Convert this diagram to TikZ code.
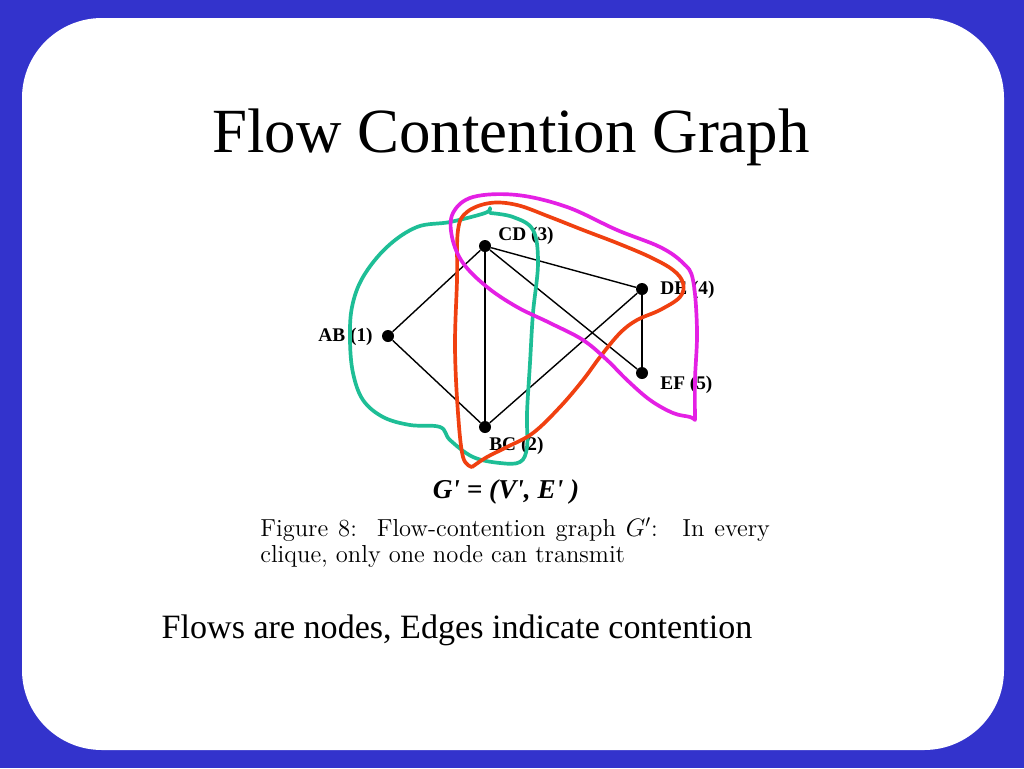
\documentclass[tikz,border=0pt]{standalone}
\usepackage{fontspec}
\newfontfamily\timesfont{Liberation Serif}
\definecolor{slideblue}{RGB}{51,51,204}
\definecolor{pengreen}{RGB}{30,190,150}
\definecolor{penred}{RGB}{240,64,16}
\definecolor{penpink}{RGB}{228,32,228}

\begin{document}
\begin{tikzpicture}[x=0.02cm, y=-0.02cm,
  dot/.style={circle, fill=black, inner sep=0pt, minimum size=12*0.02cm},
  flowlabel/.style={font=\timesfont\bfseries\fontsize{11}{13}\selectfont, inner sep=0pt},
  edge/.style={line width=0.8pt},
  pen/.style={line width=2.1pt, line cap=round, line join=round}]
  \useasboundingbox (0,0) rectangle (1024,768);
  \fill[slideblue] (0,0) rectangle (1024,768);
  \fill[white, rounded corners=1.6cm] (22,18) rectangle (1004,750);

  \node[font=\timesfont\fontsize{35.8}{42}\selectfont] (title) at (511,137) {Flow Contention Graph};

  % flows
  \node[dot] (ab) at (388,336) {};
  \node[dot] (bc) at (485,427) {};
  \node[dot] (cd) at (485,246) {};
  \node[dot] (de) at (642,289) {};
  \node[dot] (ef) at (642,373) {};
  \node[flowlabel, anchor=east] (labab) at (373,337) {AB (1)};
  \node[flowlabel, anchor=west] (labbc) at (489,446) {BC (2)};
  \node[flowlabel, anchor=west] (labcd) at (498,236) {CD (3)};
  \node[flowlabel, anchor=west] (labde) at (660,290) {DE (4)};
  \node[flowlabel, anchor=west] (labef) at (660,385) {EF (5)};

  % contention
  \draw[edge] (ab) -- (cd);
  \draw[edge] (ab) -- (bc);
  \draw[edge] (cd) -- (bc);
  \draw[edge] (cd) -- (de);
  \draw[edge] (cd) -- (ef);
  \draw[edge] (bc) -- (de);
  \draw[edge] (de) -- (ef);

  % cliques, drawn by hand
  \draw[pen, pengreen] plot[smooth, tension=0.6] coordinates {(490,208) (485,213) (450,222) (417,227) (387,247) (363,277) (352,307) (350,340) (353,373) (363,400) (383,417) (410,425) (440,427) (450,440) (473,457) (500,463) (520,462) (527,447) (527,413) (530,363) (533,313) (538,263) (533,230) (513,217) (490,213)};
  \draw[pen, penred] plot[smooth, tension=0.6] coordinates {(472,467) (463,457) (458,413) (455,347) (457,280) (458,230) (467,212) (490,203) (517,205) (550,217) (583,230) (617,243) (650,257) (673,270) (683,283) (680,297) (660,310) (637,320) (620,333) (600,357) (583,380) (560,407) (533,433) (507,447) (487,457) (472,467)};
  \draw[pen, penpink] plot[smooth, tension=0.6] coordinates {(695,420) (695,380) (697,330) (693,280) (683,263) (660,247) (617,230) (567,207) (517,195) (473,197) (453,213) (452,237) (463,263) (487,287) (517,307) (550,323) (583,340) (607,360) (627,380) (650,400) (673,413) (690,417) (695,420)};

  \node[font=\timesfont\itshape\bfseries\fontsize{15.5}{18}\selectfont] (gdef) at (506,492) {G' = (V', E' )};
  \node[anchor=north west, inner sep=0pt, text width=290pt, align=justify,
        font=\fontsize{14}{14.8}\selectfont] (caption) at (260,517)
    {Figure 8:\ \ Flow-contention graph $G'$: \ In every\linebreak clique, only one node can transmit};

  \node[font=\timesfont\fontsize{19.4}{23}\selectfont] (note) at (457,630) {Flows are nodes, Edges indicate contention};
\end{tikzpicture}
\end{document}
